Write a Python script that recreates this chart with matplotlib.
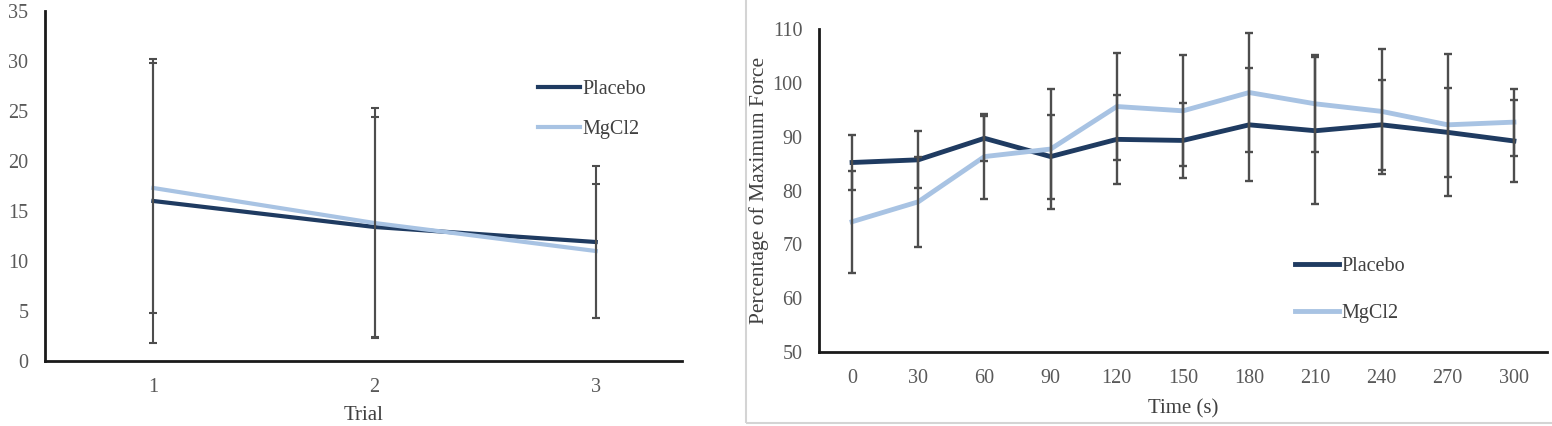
import matplotlib
matplotlib.use("Agg")
import matplotlib.pyplot as plt
from matplotlib.patches import Rectangle

plt.rcParams['font.family'] = ['Liberation Serif', 'DejaVu Serif']

# left panel: by trial
trials = [1, 2, 3]
trial_placebo = [16.0, 13.4, 11.9]
trial_placebo_sd = [14.2, 11.0, 7.6]
trial_mgcl2 = [17.3, 13.8, 11.0]
trial_mgcl2_sd = [12.5, 11.5, 6.7]

# right panel: by time
times = [0, 30, 60, 90, 120, 150, 180, 210, 240, 270, 300]
time_placebo = [85.2, 85.7, 89.7, 86.3, 89.5, 89.3, 92.2, 91.1, 92.2, 90.8, 89.2]
time_placebo_sd = [5.1, 5.3, 4.2, 7.8, 8.2, 7.0, 10.5, 13.7, 8.3, 8.3, 7.6]
time_mgcl2 = [74.2, 77.9, 86.3, 87.7, 95.6, 94.8, 98.2, 96.1, 94.7, 92.2, 92.7]
time_mgcl2_sd = [9.5, 8.4, 7.9, 11.1, 10.0, 10.3, 11.0, 9.0, 11.6, 13.2, 6.2]

W, H = 1552, 426
dark = '#1f3b61'
light = '#a8c3e3'
bar_col = '#4d4d4d'
txt = '#595959'

fig = plt.figure(figsize=(W / 100, H / 100), dpi=100)

def box(x0, x1, ytop, ybot):
    return [x0 / W, 1 - ybot / H, (x1 - x0) / W, (ybot - ytop) / H]

# frame around the right panel
fig.patches.append(Rectangle((746 / W, 1 - 423 / H), 1.0, 1.0, transform=fig.transFigure,
                             fill=False, edgecolor='#d4d4d4', linewidth=1.5))

# ---- left chart
ax1 = fig.add_axes(box(45, 682, 11, 361))
ax1.errorbar(trials, trial_placebo, yerr=trial_placebo_sd, fmt='none', ecolor=bar_col,
             elinewidth=1.5, capsize=2.7, capthick=1.5, zorder=3)
ax1.errorbar(trials, trial_mgcl2, yerr=trial_mgcl2_sd, fmt='none', ecolor=bar_col,
             elinewidth=1.5, capsize=2.7, capthick=1.5, zorder=3)
ax1.plot(trials, trial_placebo, color=dark, lw=3, label='Placebo', zorder=2)
ax1.plot(trials, trial_mgcl2, color=light, lw=3, label='MgCl2', zorder=2)
ax1.set_xlim(0.51, 3.39)
ax1.set_ylim(0, 35)
ax1.set_xticks(trials)
ax1.set_yticks(range(0, 36, 5))
ax1.set_xlabel('Trial', fontsize=15, color='#404040', labelpad=7)
ax1.legend(loc='upper left', bbox_to_anchor=(538 / W, 1 - 80 / H), bbox_transform=fig.transFigure,
           frameon=False, fontsize=14.5, handlelength=2.1, handletextpad=0.1, labelspacing=1.05,
           borderpad=0, borderaxespad=0, labelcolor='#404040')

# ---- right chart
ax2 = fig.add_axes(box(819, 1547, 29, 352))
xi = list(range(len(times)))
ax2.errorbar(xi, time_placebo, yerr=time_placebo_sd, fmt='none', ecolor=bar_col,
             elinewidth=1.7, capsize=3, capthick=1.7, zorder=3)
ax2.errorbar(xi, time_mgcl2, yerr=time_mgcl2_sd, fmt='none', ecolor=bar_col,
             elinewidth=1.7, capsize=3, capthick=1.7, zorder=3)
ax2.plot(xi, time_placebo, color=dark, lw=3.5, label='Placebo', zorder=2)
ax2.plot(xi, time_mgcl2, color=light, lw=3.5, label='MgCl2', zorder=2)
ax2.set_xlim(-0.5, len(times) - 0.5)
ax2.set_ylim(50, 110)
ax2.set_xticks(xi)
ax2.set_xticklabels([str(t) for t in times])
ax2.set_yticks(range(50, 111, 10))
ax2.set_xlabel('Time (s)', fontsize=15, color='#404040', labelpad=8)
ax2.set_ylabel('Percentage of Maximum Force', fontsize=15.5, color='#404040', labelpad=2)
ax2.legend(loc='upper left', bbox_to_anchor=(1295 / W, 1 - 257 / H), bbox_transform=fig.transFigure,
           frameon=False, fontsize=14.5, handlelength=2.2, handletextpad=0.1, labelspacing=1.4,
           borderpad=0, borderaxespad=0, labelcolor='#404040')

for ax in (ax1, ax2):
    for s in ('top', 'right'):
        ax.spines[s].set_visible(False)
    for s in ('left', 'bottom'):
        ax.spines[s].set_linewidth(2)
        ax.spines[s].set_color('#1a1a1a')
    ax.tick_params(length=0, labelsize=14.5, labelcolor=txt, pad=12)
    ax.patch.set_alpha(0)

fig.savefig('out.png', dpi=100)
